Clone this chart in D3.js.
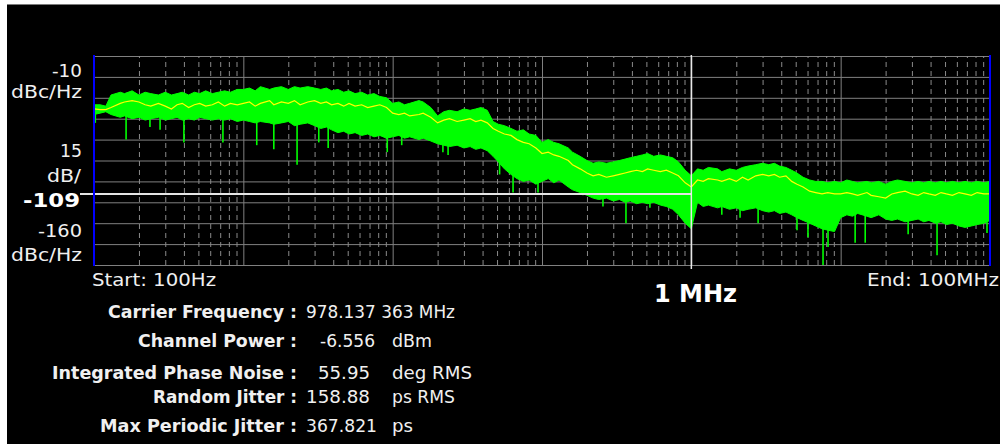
<!DOCTYPE html>
<html>
<head>
<meta charset="utf-8">
<script src="https://cdn.jsdelivr.net/npm/d3@7"></script>
<style>
  html, body { margin: 0; padding: 0; background: #fff; }
  svg { display: block; }
</style>
</head>
<body>
<svg id="chart" width="1000" height="444"></svg>
<script>
// ---- Phase-noise sweep: offset frequency grid (Hz) ----
const decades = [1e2, 1e3, 1e4, 1e5, 1e6, 1e7];
const e24 = [1.0, 1.1, 1.2, 1.3, 1.5, 1.6, 1.8, 2.0, 2.2, 2.4, 2.7, 3.0,
             3.3, 3.6, 3.9, 4.3, 4.7, 5.1, 5.6, 6.2, 6.8, 7.5, 8.2, 9.1];
const stopFreq = 1e8;
const minorSteps = [2, 3, 4, 5, 6, 7, 8, 9];

// ---- Measured trace, dBc/Hz (one value per grid frequency) ----
const traceMax = [
  -45, -45, -46, -38, -36, -37, -35, -38, -36, -37, -38, -36, -38, -37, -36, -38, -36, -37, -35, -37, -36, -35, -36, -34,
  -34, -33, -35, -32, -34, -33, -32, -34, -32, -33, -32, -33, -34, -33, -35, -34, -36, -35, -37, -36, -38, -37, -39, -40,
  -44, -43, -45, -44, -42, -43, -47, -53, -50, -49, -50, -48, -49, -48, -47, -49, -57, -59, -60, -62, -64, -63, -66, -67,
  -72, -70, -72, -73, -76, -79, -82, -85, -87, -86, -87, -86, -85, -84, -83, -82, -81, -80, -82, -81, -82, -83, -86, -92,
  -96, -91, -92, -90, -91, -93, -91, -92, -90, -89, -88, -87, -88, -87, -89, -90, -92, -94, -97, -99, -100, -100, -101, -100,
  -101, -99, -100, -101, -100, -101, -100, -102, -100, -99, -100, -101, -100, -101, -100, -101, -100, -101, -100, -101, -100, -101, -100, -101,
  -100
];
const traceAvg = [
  -48, -48.5, -48.5, -47, -44, -43, -42, -43, -45, -46, -44, -46, -48, -45, -44, -47, -45, -44, -46, -45, -43, -46, -44, -45,
  -44, -43, -46, -44, -42, -45, -43, -44, -42, -45, -43, -42, -44, -43, -45, -44, -46, -44, -46, -45, -47, -46, -45, -47,
  -51, -52, -51, -53, -52, -51, -54, -58, -56, -55, -57, -56, -55, -57, -56, -58, -62, -64, -66, -67, -70, -72, -73, -76,
  -80, -79, -81, -82, -85, -88, -91, -94, -96, -95, -97, -96, -95, -94, -93, -92, -93, -91, -92, -93, -92, -94, -96, -101,
  -104, -99, -100, -98, -99, -100, -98, -100, -97, -99, -96, -95, -96, -95, -97, -96, -100, -102, -104, -107, -108, -109, -108, -109,
  -109, -108, -109, -110, -108, -110, -111, -112, -109, -108, -107, -109, -110, -108, -109, -110, -108, -109, -110, -108, -109, -110, -108, -109,
  -109
];
const traceMin = [
  -52, -51, -50, -52, -54, -53, -55, -54, -56, -55, -54, -56, -55, -54, -56, -55, -56, -54, -55, -56, -55, -56, -55, -57,
  -56, -57, -58, -57, -58, -59, -58, -57, -60, -59, -58, -60, -62, -61, -63, -65, -64, -66, -65, -67, -66, -68, -67, -69,
  -68, -67, -69, -68, -70, -69, -71, -73, -74, -75, -74, -76, -75, -77, -76, -78, -82, -86, -91, -95, -98, -100, -99, -102,
  -100, -98, -101, -99, -104, -106, -108, -110, -112, -113, -112, -114, -113, -115, -114, -116, -115, -116, -115, -117, -118, -120, -124, -130,
  -134, -115, -118, -117, -119, -118, -120, -119, -121, -120, -119, -121, -122, -121, -123, -122, -124, -126, -128, -130, -132, -134, -135, -136,
  -126, -124, -125, -123, -125, -126, -124, -127, -128, -127, -129, -128, -127, -129, -128, -130, -129, -131, -130, -132, -133, -132, -131, -130,
  -128
];
// Deep single-bin dips: [frequency Hz, level dBc/Hz]
const spurs = [
  [102, -58], [164, -70], [237, -61], [277, -63], [400, -72], [730, -72],
  [1230, -74], [1600, -77], [2290, -88], [3200, -72], [3700, -76], [9200, -79],
  [11500, -74], [21700, -79], [23500, -81], [52000, -95], [64000, -108], [94000, -108],
  [188000, -110], [256000, -118], [365000, -130], [528000, -119], [1.6e6, -124], [2.12e6, -126],
  [2.8e6, -130], [5.1e6, -135], [6.04e6, -140], [7.62e6, -160], [8.23e6, -147], [1.25e7, -144],
  [1.46e7, -144], [2.83e7, -138], [4.42e7, -153], [9.55e7, -137]
];

// ---- Scale annotations ----
const yTicks = [-10, -25, -40, -55, -70, -85, -100, -115, -130, -145, -160];
const refLevel = -109;
const markerFreq = 1e6;
const markerLabel = "1 MHz";
const startLabel = "Start: 100Hz";
const endLabel = "End: 100MHz";

// ---- Summary table ----
const summaryLabels = ["Carrier Frequency :", "Channel Power :", "Integrated Phase Noise :", "Random Jitter :", "Max Periodic Jitter :"];
const summaryValues = ["978.137 363 MHz", "-6.556", "55.95", "158.88", "367.821"];
const summaryUnits = ["", "dBm", "deg RMS", "ps RMS", "ps"];

// ================= drawing =================
const svg = d3.select("#chart");
const L = 94, R = 990, T = 56, B = 265;
const FONT = "'DejaVu Sans', Verdana, sans-serif";

// screen frame
svg.append("rect").attr("x", 0).attr("y", 0).attr("width", 1000).attr("height", 444).attr("fill", "#fff");
svg.append("rect").attr("x", 7).attr("y", 5).attr("width", 993).attr("height", 439).attr("fill", "#000");
svg.append("line").attr("x1", 7).attr("x2", 1000).attr("y1", 4.5).attr("y2", 4.5)
  .attr("stroke", "#7a7a7a").attr("stroke-width", 1);

const x = d3.scaleLog().domain([decades[0], stopFreq]).range([L, R]);
const y = d3.scaleLinear().domain([yTicks[yTicks.length - 1], yTicks[0]]).range([B, T]);

const freqs = decades.flatMap(d => e24.map(m => +(m * d).toPrecision(3))).concat([stopFreq]);
const trace = freqs.map((f, i) => ({ f, hi: traceMax[i], avg: traceAvg[i], lo: traceMin[i] }));

const grid = svg.append("g");

// horizontal graticule
const hAxis = grid.append("g").attr("transform", `translate(${L},0)`)
  .call(d3.axisLeft(y).tickValues(yTicks).tickSize(-(R - L)).tickFormat(""));
hAxis.select(".domain").remove();
hAxis.selectAll("line").attr("stroke", "#808080").attr("stroke-width", 1);

// minor (dashed) vertical graticule
const minorTicks = decades.flatMap(d => minorSteps.map(k => k * d));
const vMinor = grid.append("g").attr("transform", `translate(0,${B})`)
  .call(d3.axisBottom(x).tickValues(minorTicks).tickSize(-(B - T)).tickFormat(""));
vMinor.select(".domain").remove();
vMinor.selectAll("line").attr("stroke", "#8a8a8a").attr("stroke-width", 1).attr("stroke-dasharray", "5,4");

// decade (solid) vertical graticule
const vMajor = grid.append("g").attr("transform", `translate(0,${B})`)
  .call(d3.axisBottom(x).tickValues(decades.slice(1)).tickSize(-(B - T)).tickFormat(""));
vMajor.select(".domain").remove();
vMajor.selectAll("line").attr("stroke", "#808080").attr("stroke-width", 1);

// noise band (max/min envelope)
const band = d3.area()
  .x(d => x(d.f))
  .y0(d => y(d.lo))
  .y1(d => y(d.hi));
svg.append("path").datum(trace).attr("d", band)
  .attr("fill", "#00ff00").attr("stroke", "#00ff00").attr("stroke-width", 1);

// single-bin dips hanging off the band floor
function floorAt(f) {
  const i = Math.max(0, Math.min(freqs.length - 2, d3.bisectRight(freqs, f) - 1));
  const t = (Math.log10(f) - Math.log10(freqs[i])) / (Math.log10(freqs[i + 1]) - Math.log10(freqs[i]));
  return traceMin[i] + t * (traceMin[i + 1] - traceMin[i]);
}
svg.append("g").selectAll("line").data(spurs).join("line")
  .attr("x1", d => x(d[0])).attr("x2", d => x(d[0]))
  .attr("y1", d => y(floorAt(d[0]) + 3)).attr("y2", d => y(d[1]))
  .attr("stroke", "#00ff00").attr("stroke-width", 1.6);

// averaged trace
svg.append("path").datum(trace)
  .attr("d", d3.line().x(d => x(d.f)).y(d => y(d.avg)))
  .attr("fill", "none").attr("stroke", "#ffff00").attr("stroke-width", 1.2);

// marker cross-hair
svg.append("line").attr("x1", 80).attr("x2", x(markerFreq)).attr("y1", y(refLevel)).attr("y2", y(refLevel))
  .attr("stroke", "#e4e4e4").attr("stroke-width", 2);
svg.append("line").attr("x1", x(markerFreq)).attr("x2", x(markerFreq)).attr("y1", T - 1).attr("y2", B + 4)
  .attr("stroke", "#e8e8e8").attr("stroke-width", 1.5);

// span edges
[x.domain()[0], x.domain()[1]].forEach(f => {
  svg.append("line").attr("x1", x(f)).attr("x2", x(f)).attr("y1", T - 1).attr("y2", B + 1)
    .attr("stroke", "#0000ff").attr("stroke-width", 2);
});

// ---- text ----
function label(txt, px, py, opts) {
  const o = Object.assign({ size: 17, weight: "normal", anchor: "start", fill: "#f0f0f0" }, opts || {});
  const t = svg.append("text").attr("x", px).attr("y", py)
    .attr("font-family", FONT).attr("font-size", o.size).attr("font-weight", o.weight)
    .attr("text-anchor", o.anchor).attr("fill", o.fill).text(txt);
  if (o.len) t.attr("textLength", o.len).attr("lengthAdjust", "spacingAndGlyphs");
  return t;
}

label(String(yTicks[0]), 82, 77, { anchor: "end", len: 30 });
label("dBc/Hz", 82, 98, { anchor: "end", len: 71 });
label(String(yTicks[0] - yTicks[1]), 82, 157, { anchor: "end", len: 22 });
label("dB/", 81, 182, { anchor: "end", len: 34 });
label(String(refLevel), 80, 207, { anchor: "end", len: 57, size: 20, weight: "bold", fill: "#ffffff" });
label(String(yTicks[yTicks.length - 1]), 82, 237, { anchor: "end", len: 44 });
label("dBc/Hz", 82, 261, { anchor: "end", len: 71 });

label(startLabel, 92, 286, { len: 124 });
label(endLabel, 867, 286, { len: 132 });
label(markerLabel, 654, 302, { size: 24, weight: "bold", fill: "#ffffff", len: 83 });

const rowY = [318, 347, 379, 403, 432];
const labelLen = [189, 159, 245, 144, 197];
const valueX = [306, 320, 318, 306, 306];
const valueLen = [149, 55, 52, 64, 71];
const unitLen = [0, 40, 80, 63, 21];
summaryLabels.forEach((s, i) => {
  label(s, 297, rowY[i], { anchor: "end", weight: "bold", len: labelLen[i] });
  label(summaryValues[i], valueX[i], rowY[i], { len: valueLen[i] });
  if (summaryUnits[i]) label(summaryUnits[i], 392, rowY[i], { len: unitLen[i] });
});
</script>
</body>
</html>
